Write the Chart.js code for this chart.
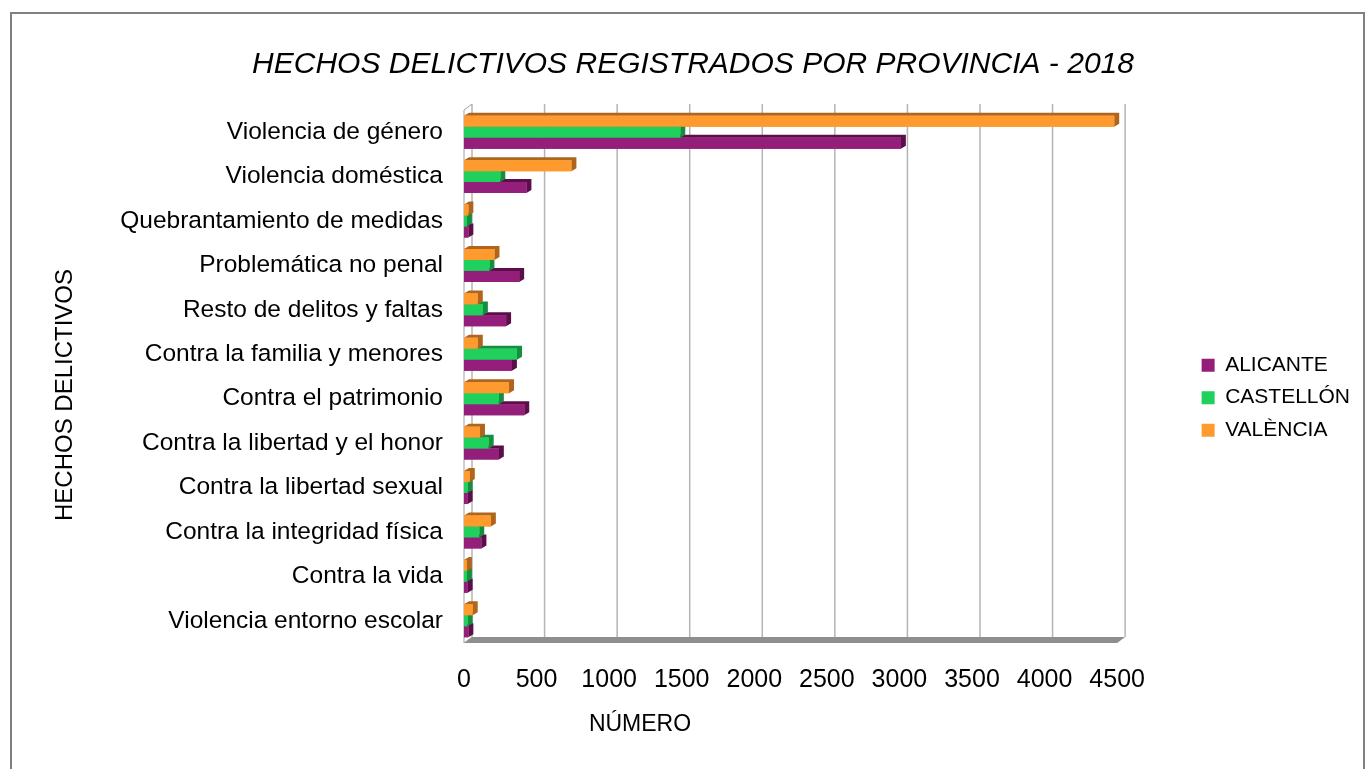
<!DOCTYPE html>
<html lang="es">
<head>
    <meta charset="UTF-8">
    <title>Hechos delictivos registrados por provincia - 2018</title>
    <style>
        body {
            margin: 0;
            padding: 0;
            background: #ffffff;
            overflow: hidden;
        }
        .frame {
            position: absolute;
            left: 10px;
            top: 12px;
            width: 1351px;
            height: 800px;
            border: 2px solid #808080;
        }
        #chartBox {
            position: absolute;
            left: 0;
            top: 0;
            width: 1365px;
            height: 769px;
        }
    </style>
</head>
<body>
    <div class="frame"></div>
    <div id="chartBox"><canvas id="delitosChart" width="1365" height="769"></canvas></div>

    <script src="https://cdn.jsdelivr.net/npm/chart.js"></script>
    <script>
        // categories, top to bottom
        const categories = [
            'Violencia de género',
            'Violencia doméstica',
            'Quebrantamiento de medidas',
            'Problemática no penal',
            'Resto de delitos y faltas',
            'Contra la familia y menores',
            'Contra el patrimonio',
            'Contra la libertad y el honor',
            'Contra la libertad sexual',
            'Contra la integridad física',
            'Contra la vida',
            'Violencia entorno escolar'
        ];

        const alicante  = [3010, 430, 30, 380, 290, 330, 415, 240, 25, 120, 25, 30];
        const castellon = [1490, 250, 20, 175, 130, 365, 240, 170, 25, 105, 20, 25];
        const valencia  = [4480, 740, 30, 210, 95, 95, 310, 110, 40, 185, 20, 60];

        const xTicks = [0, 500, 1000, 1500, 2000, 2500, 3000, 3500, 4000, 4500];

        const colors = {
            alicante:  { face: '#931f7a', dark: '#5c0e4b' },
            castellon: { face: '#1fd05d', dark: '#138f3e' },
            valencia:  { face: '#ff9a2f', dark: '#b0651c' }
        };

        const DX = 8, DY = 6;   // depth of the back wall
        const BX = 5, BY = 3;   // depth of each bar

        // back wall grid, left wall and floor
        const wallPlugin = {
            id: 'wall',
            beforeDatasetsDraw(chart) {
                const { ctx, chartArea: a, scales: { x } } = chart;
                ctx.save();
                // floor
                ctx.fillStyle = '#8e8e8e';
                ctx.beginPath();
                ctx.moveTo(a.left, a.bottom);
                ctx.lineTo(a.right, a.bottom);
                ctx.lineTo(a.right + DX, a.bottom - DY);
                ctx.lineTo(a.left + DX, a.bottom - DY);
                ctx.closePath();
                ctx.fill();
                // grid lines on the back wall
                ctx.strokeStyle = '#b4b4b4';
                ctx.lineWidth = 1.5;
                xTicks.forEach(v => {
                    const px = x.getPixelForValue(v) + DX;
                    ctx.beginPath();
                    ctx.moveTo(px, a.top - DY);
                    ctx.lineTo(px, a.bottom - DY);
                    ctx.stroke();
                });
                // left wall
                ctx.strokeStyle = '#a0a0a0';
                ctx.lineWidth = 1;
                ctx.beginPath();
                ctx.moveTo(a.left, a.top);
                ctx.lineTo(a.left, a.bottom);
                ctx.lineTo(a.left + DX, a.bottom - DY);
                ctx.moveTo(a.left, a.top);
                ctx.lineTo(a.left + DX, a.top - DY);
                ctx.stroke();
                ctx.restore();
            }
        };

        // bar tops and end caps, drawn lower bars first
        const barPlugin = {
            id: 'bars3d',
            afterDatasetsDraw(chart) {
                const ctx = chart.ctx;
                const n = chart.data.labels.length;
                const sets = chart.data.datasets.length;
                ctx.save();
                for (let i = 0; i < n; i++) {
                    for (let d = sets - 1; d >= 0; d--) {
                        const el = chart.getDatasetMeta(d).data[i];
                        const dark = chart.data.datasets[d].darkColor;
                        const p = el.getProps(['x', 'y', 'base', 'height'], true);
                        const t = p.y - p.height / 2;
                        const b = p.y + p.height / 2;
                        ctx.fillStyle = dark;
                        ctx.beginPath();
                        ctx.moveTo(p.base, t);
                        ctx.lineTo(p.base + BX, t - BY);
                        ctx.lineTo(p.x + BX, t - BY);
                        ctx.lineTo(p.x + BX, b - BY);
                        ctx.lineTo(p.x, b);
                        ctx.lineTo(p.x, t);
                        ctx.closePath();
                        ctx.fill();
                        el.draw(ctx);
                    }
                }
                ctx.restore();
            }
        };

        // axis titles sit off-centre in the original, so they are placed by hand
        const axisTitlePlugin = {
            id: 'axisTitles',
            afterDraw(chart) {
                const ctx = chart.ctx;
                ctx.save();
                ctx.fillStyle = '#000';
                ctx.textAlign = 'center';
                ctx.textBaseline = 'middle';
                ctx.font = '23px "Liberation Sans", Arial, sans-serif';
                ctx.fillText('NÚMERO', 640, 725);
                ctx.translate(65, 395);
                ctx.rotate(-Math.PI / 2);
                ctx.font = '24px "Liberation Sans", Arial, sans-serif';
                ctx.fillText('HECHOS DELICTIVOS', 0, 0);
                ctx.restore();
            }
        };

        new Chart(document.getElementById('delitosChart'), {
            type: 'bar',
            data: {
                labels: categories,
                datasets: [
                    { label: 'VALÈNCIA', data: valencia, backgroundColor: colors.valencia.face, darkColor: colors.valencia.dark, borderWidth: 0 },
                    { label: 'CASTELLÓN', data: castellon, backgroundColor: colors.castellon.face, darkColor: colors.castellon.dark, borderWidth: 0 },
                    { label: 'ALICANTE', data: alicante, backgroundColor: colors.alicante.face, darkColor: colors.alicante.dark, borderWidth: 0 }
                ]
            },
            options: {
                indexAxis: 'y',
                responsive: false,
                animation: false,
                categoryPercentage: 0.74,
                barPercentage: 1.0,
                layout: { padding: { left: 26, right: 5, top: 0, bottom: 0 } },
                plugins: {
                    title: {
                        display: true,
                        text: 'HECHOS DELICTIVOS REGISTRADOS POR PROVINCIA - 2018',
                        color: '#000',
                        font: { family: 'Liberation Sans, Arial, sans-serif', size: 30, style: 'italic', weight: 'normal' },
                        padding: { top: 47, bottom: 27 }
                    },
                    legend: {
                        position: 'right',
                        reverse: true,
                        title: { display: true, text: '', font: { size: 12 }, padding: 6 },
                        labels: {
                            color: '#000',
                            boxWidth: 13,
                            boxHeight: 13,
                            padding: 11.5,
                            font: { family: 'Liberation Sans, Arial, sans-serif', size: 21 }
                        }
                    },
                    tooltip: { enabled: false }
                },
                scales: {
                    x: {
                        min: 0,
                        max: 4500,
                        afterBuildTicks: s => { s.ticks = xTicks.map(v => ({ value: v })); },
                        afterFit: s => { s.height = 126; },
                        grid: { display: false, drawTicks: false },
                        border: { display: false },
                        ticks: {
                            color: '#000',
                            padding: 22,
                            maxRotation: 0,
                            autoSkip: false,
                            callback: v => String(v),
                            font: { family: 'Liberation Sans, Arial, sans-serif', size: 25 }
                        }
                    },
                    y: {
                        afterFit: s => { s.width = 438; },
                        grid: { display: false, drawTicks: false },
                        border: { display: false },
                        ticks: {
                            color: '#000',
                            padding: 21,
                            autoSkip: false,
                            font: { family: 'Liberation Sans, Arial, sans-serif', size: 24.5 }
                        }
                    },
                    yRight: {
                        type: 'category',
                        position: 'right',
                        labels: categories,
                        afterFit: s => { s.width = 73; },
                        grid: { display: false, drawTicks: false },
                        border: { display: false },
                        ticks: { display: false }
                    }
                }
            },
            plugins: [wallPlugin, barPlugin, axisTitlePlugin]
        });
    </script>
</body>
</html>
